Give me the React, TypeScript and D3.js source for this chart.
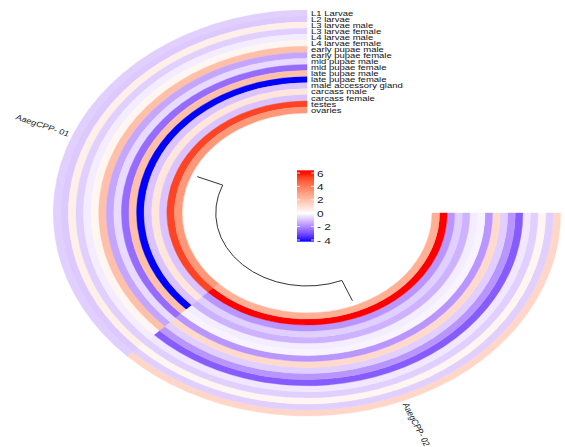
import React from 'react';
import * as d3 from 'd3';

// Heatmap columns (one sector per gene) and rows (one ring per tissue, outer → inner)
const genes = ['AaegCPP- 01', 'AaegCPP- 02'];
const tissues = [
  'L1 Larvae', 'L2 larvae', 'L3 larvae male', 'L3 larvae female', 'L4 larvae male',
  'L4 larvae female', 'early pupae male', 'early pupae female', 'mid pupae male',
  'mid pupae female', 'late pupae male', 'late pupae female', 'male accessory gland',
  'carcass male', 'carcass female', 'testes', 'ovaries',
];
// log2 expression values per tissue
const cpp01 = [-0.8, -0.9, 0.5, -0.8, -0.3, 0.3, 2.0, -1.5, -0.6, -2.5, 2.0, -4.0, -1.0, 0.8, -1.0, 5.3, 3.2];
const cpp02 = [1.3, -0.8, 0.3, -0.8, -0.4, -2.8, -1.8, -0.8, 1.2, -1.8, -0.2, -0.3, -1.3, -0.8, -1.8, 6.0, 2.5];
const legendTicks = [6, 4, 2, 0, -2, -4];
const legendLabels = ['6', '4', '2', '0', '- 2', '- 4'];

const W = 565;
const H = 447;
const cx = 307;
const cy = 213;
const sx = 1.25; // horizontal stretch of the whole layout
const rOuter = 203;
const rInner = 100;
const FONT = "'Liberation Sans', Arial, Helvetica, sans-serif";

const color = d3
  .scaleLinear<string>()
  .domain([-4, 0, 6])
  .range(['#0000FF', '#FFFFFF', '#FF0000'])
  .interpolate(d3.interpolateLab)
  .clamp(true);

// math-convention angle (degrees, counter-clockwise from +x) of each sector boundary
const angle = d3.scaleLinear().domain([0, genes.length]).range([90, 360]);
const ring = d3.scaleBand<string>().domain(tissues).range([rOuter, rInner]);

const rad = (deg: number) => (deg * Math.PI) / 180;
const toD3 = (deg: number) => rad(90 - deg);
const local = (deg: number, r: number): [number, number] => [
  r * Math.cos(rad(deg)),
  -r * Math.sin(rad(deg)),
];
const screen = (deg: number, r: number): [number, number] => {
  const [x, y] = local(deg, r);
  return [cx + x * sx, cy + y];
};

const arc = d3.arc<any>();

export default function App() {
  const series = [cpp01, cpp02];

  const cells = genes.flatMap((g, gi) =>
    tissues.map((t, ti) => {
      const inner = ring(t)!;
      const d = arc({
        innerRadius: inner,
        outerRadius: inner + ring.bandwidth(),
        startAngle: toD3(angle(gi)),
        endAngle: toD3(angle(gi + 1)),
      });
      const c = color(series[gi][ti]);
      return <path key={`${g}-${t}`} d={d || ''} fill={c} stroke={c} strokeWidth={0.35} />;
    })
  );

  // dendrogram joining the two genes
  const mid = genes.map((_, i) => (angle(i) + angle(i + 1)) / 2);
  const leafR = 95;
  const joinR = 73;
  const p = d3.path();
  const a0 = local(mid[0], leafR);
  const a1 = local(mid[0], joinR);
  p.moveTo(a0[0], a0[1]);
  p.lineTo(a1[0], a1[1]);
  p.arc(0, 0, joinR, -rad(mid[0]), -rad(mid[1]), true);
  const b0 = local(mid[1], leafR);
  p.lineTo(b0[0], b0[1]);

  // gene labels placed radially outside the rings
  const geneLabels = genes.map((g, i) => {
    const deg = mid[i];
    const [x, y] = screen(deg, rOuter + 3);
    let rot = (Math.atan2(-Math.sin(rad(deg)), Math.cos(rad(deg))) * 180) / Math.PI;
    let anchor = 'start';
    if (Math.abs(rot) > 90) {
      rot += 180;
      anchor = 'end';
    }
    return (
      <text
        key={g}
        transform={`translate(${x},${y}) scale(${sx},1) rotate(${rot})`}
        textAnchor={anchor}
        dominantBaseline="central"
        fontSize={7.5}
        fontFamily={FONT}
        fill="#222"
      >
        {g}
      </text>
    );
  });

  // colour legend
  const ly = d3.scaleLinear().domain([-4, 6]).range([240, 173]);
  const legTop = ly(6.4);
  const legBot = ly(-4.25);
  const legX = 297;
  const legW = 17;
  const stops = d3.range(0, 21).map((i) => {
    const v = 6.4 - (i / 20) * (6.4 + 4.25);
    return { off: i / 20, c: color(v) };
  });

  return (
    <svg
      width={W}
      height={H}
      style={{ position: 'absolute', left: 0, top: 0, background: '#fff' }}
    >
      <defs>
        <linearGradient id="legGrad" x1="0" y1="0" x2="0" y2="1">
          {stops.map((s, i) => (
            <stop key={i} offset={s.off} stopColor={s.c} />
          ))}
        </linearGradient>
      </defs>
      <g transform={`translate(${cx},${cy}) scale(${sx},1)`}>
        {cells}
        <path
          d={p.toString()}
          fill="none"
          stroke="#333"
          strokeWidth={1}
          vectorEffect="non-scaling-stroke"
        />
      </g>
      {tissues.map((t) => {
        const rc = ring(t)! + ring.bandwidth() / 2;
        const [, y] = screen(90, rc);
        return (
          <text
            key={t}
            transform={`translate(${cx + 4},${y}) scale(${sx},1)`}
            dominantBaseline="central"
            fontSize={7.6}
            fontFamily={FONT}
            fill="#111"
          >
            {t}
          </text>
        );
      })}
      {geneLabels}
      <rect x={legX} y={legTop} width={legW} height={legBot - legTop} fill="url(#legGrad)" />
      {legendTicks.map((v, i) => (
        <g key={v}>
          <line x1={legX} x2={legX + 3} y1={ly(v)} y2={ly(v)} stroke="#fff" strokeWidth={0.8} />
          <line x1={legX + legW - 3} x2={legX + legW} y1={ly(v)} y2={ly(v)} stroke="#fff" strokeWidth={0.8} />
          <text
            transform={`translate(${legX + legW + 3},${ly(v)}) scale(${sx},1)`}
            dominantBaseline="central"
            fontSize={9.5}
            fontFamily={FONT}
            fill="#222"
          >
            {legendLabels[i]}
          </text>
        </g>
      ))}
    </svg>
  );
}
